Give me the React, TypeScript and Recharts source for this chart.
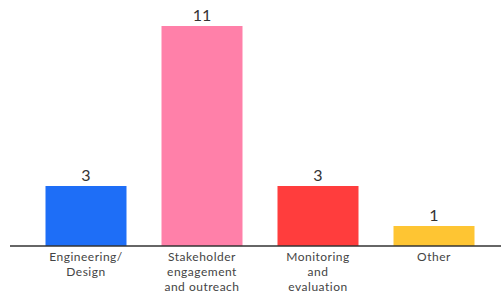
import React from 'react';
import { BarChart, Bar, XAxis, YAxis, Cell, LabelList } from 'recharts';

const categories = ['Engineering/\nDesign', 'Stakeholder\nengagement\nand outreach', 'Monitoring\nand\nevaluation', 'Other'];
const counts = [3, 11, 3, 1];
const colors = ['#1e6ef7', '#ff80a9', '#ff3d3d', '#fec533'];

const data = categories.map((name, i) => ({ name, count: counts[i] }));

const WrappedTick = (props: any) => {
  const { x, y, payload } = props;
  const lines = String(payload.value).split('\n');
  return (
    <text x={x} y={y + 7} textAnchor="middle" fill="#444" fontSize={12} letterSpacing={0.5} fontFamily="Lato, 'Noto Sans', sans-serif">
      {lines.map((line: string, i: number) => (
        <tspan key={i} x={x} dy={i === 0 ? 0 : 15}>
          {line}
        </tspan>
      ))}
    </text>
  );
};

const App = () => (
  <div style={{ position: 'absolute', left: 0, top: 0, width: 502, height: 293, background: '#fff' }}>
    <BarChart width={502} height={293} data={data} margin={{ top: 26, right: 1, bottom: 0, left: 10 }} barCategoryGap={17.5}>
      <XAxis
        dataKey="name"
        interval={0}
        tickLine={false}
        axisLine={{ stroke: '#333', strokeWidth: 1.5 }}
        height={47}
        padding={{ left: 18, right: 9 }}
        tick={<WrappedTick />}
      />
      <YAxis hide domain={[0, 11]} />
      <Bar dataKey="count" isAnimationActive={false}>
        {data.map((_, i) => (
          <Cell key={i} fill={colors[i]} />
        ))}
        <LabelList dataKey="count" position="top" offset={5} fill="#333" fontSize={16} fontFamily="Lato, 'Noto Sans', sans-serif" />
      </Bar>
    </BarChart>
  </div>
);

export default App;
